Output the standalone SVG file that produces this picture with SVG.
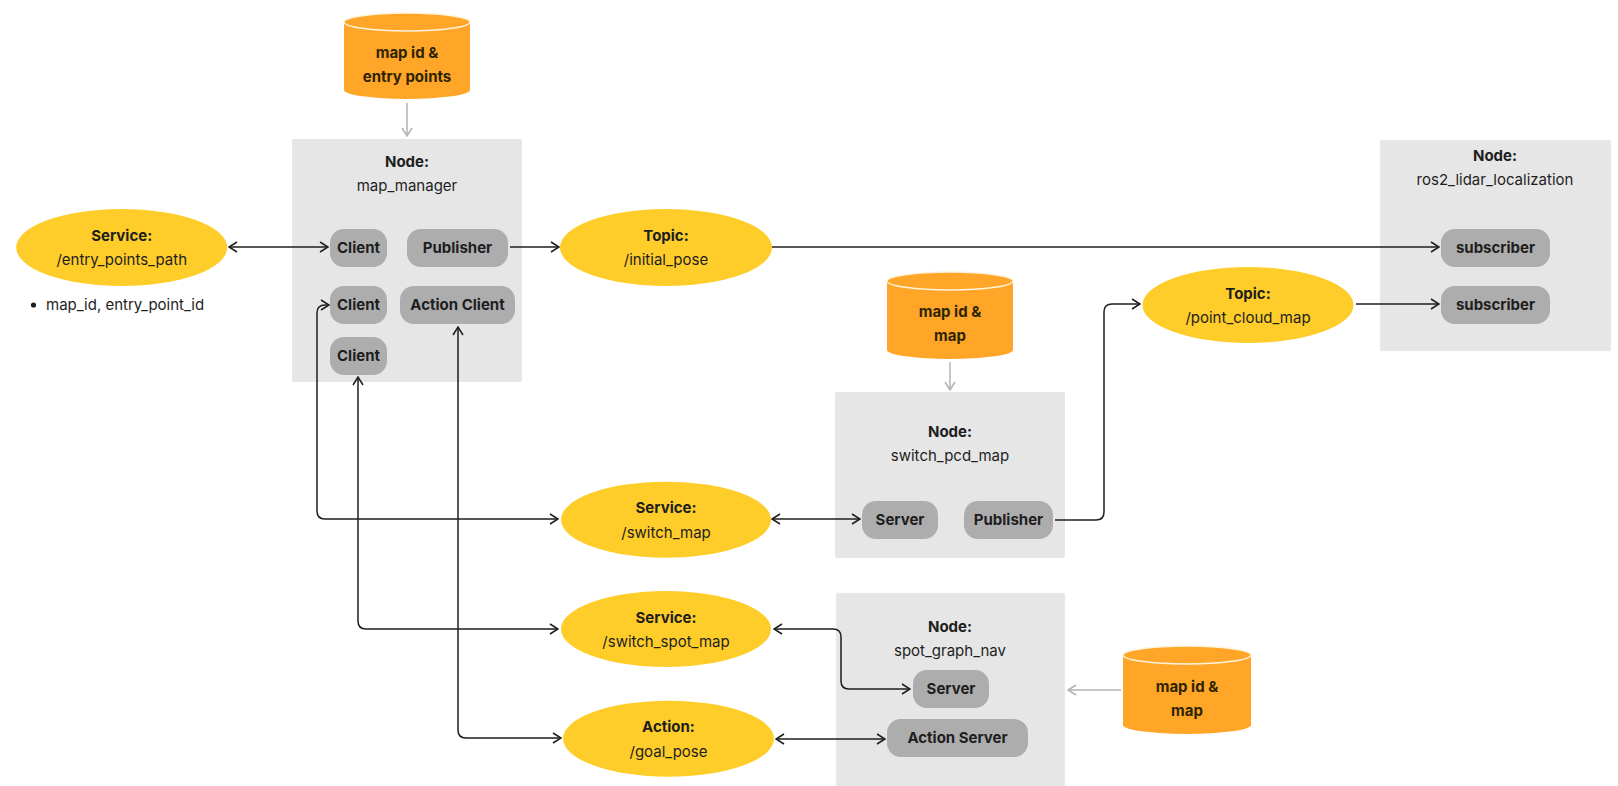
<svg xmlns="http://www.w3.org/2000/svg" width="1618" height="786" viewBox="0 0 1618 786">
<style>
  text { font-family: Inter, "Noto Sans", "Liberation Sans", sans-serif; font-size: 15px; fill: #1e1e1e; text-anchor: middle; }
  .b { font-weight: 700; }
  .box { fill: #e6e6e6; }
  .dbox { fill: #e6e6e6; stroke: #f2f2f2; stroke-width: 1; stroke-dasharray: 2 2; }
  .pill { fill: #adadad; }
  .ell { fill: #ffcd29; }
  .cyl { fill: #ffa629; }
  .cyltop { fill: #ffa629; stroke: #fff3dc; stroke-width: 1.5; }
  .ct { font-weight: 700; fill: #2e2400; }
  .con { fill: none; stroke: #1e1e1e; stroke-width: 1.5; }
  .gray { fill: none; stroke: #b3b3b3; stroke-width: 1.5; }
  .lt { text-anchor: start; }
</style>
<defs>
  <marker id="ah" viewBox="0 0 10 12" refX="9" refY="6" markerWidth="10" markerHeight="12" markerUnits="userSpaceOnUse" orient="auto-start-reverse">
    <path d="M1,1 L9,6 L1,11" fill="none" stroke="#1e1e1e" stroke-width="1.5"/>
  </marker>
  <marker id="ahg" viewBox="0 0 10 12" refX="9" refY="6" markerWidth="10" markerHeight="12" markerUnits="userSpaceOnUse" orient="auto-start-reverse">
    <path d="M1,1 L9,6 L1,11" fill="none" stroke="#b3b3b3" stroke-width="1.5"/>
  </marker>
</defs>

<g id="db-entry-points">
  <path class="cyl" d="M344,22 L344,90 A63,9 0 0 0 470,90 L470,22 Z"/>
  <ellipse class="cyltop" cx="407" cy="22" rx="63" ry="9"/>
  <text class="ct" x="407" y="58">map id &amp;</text>
  <text class="ct" x="407" y="82">entry points</text>
</g>

<g id="node-map-manager">
  <rect class="box" x="292" y="139" width="230" height="243" rx="2"/>
  <text class="b" x="407" y="167">Node:</text>
  <text x="407" y="191">map_manager</text>
  <rect class="pill" x="330" y="229" width="57" height="38" rx="14"/>
  <text class="b" x="358.5" y="253">Client</text>
  <rect class="pill" x="407" y="229" width="101" height="38" rx="14"/>
  <text class="b" x="457.5" y="253">Publisher</text>
  <rect class="pill" x="330" y="286" width="57" height="38" rx="14"/>
  <text class="b" x="358.5" y="310">Client</text>
  <rect class="pill" x="400" y="286" width="115" height="38" rx="14"/>
  <text class="b" x="457.5" y="310">Action Client</text>
  <rect class="pill" x="330" y="337" width="57" height="38" rx="14"/>
  <text class="b" x="358.5" y="361">Client</text>
</g>

<g id="service-entry-points-path">
  <ellipse class="ell" cx="121.7" cy="247.5" rx="105.5" ry="38.5"/>
  <text class="b" x="121.7" y="241">Service:</text>
  <text x="121.7" y="265">/entry_points_path</text>
  <circle cx="33.5" cy="305" r="2.6" fill="#1e1e1e"/>
  <text class="lt" x="46" y="310">map_id, entry_point_id</text>
</g>

<g id="topic-initial-pose">
  <ellipse class="ell" cx="666" cy="247.5" rx="106" ry="38.5"/>
  <text class="b" x="666" y="241">Topic:</text>
  <text x="666" y="265">/initial_pose</text>
</g>

<g id="db-map-pcd">
  <path class="cyl" d="M887,281 L887,350 A63,9 0 0 0 1013,350 L1013,281 Z"/>
  <ellipse class="cyltop" cx="950" cy="281" rx="63" ry="9"/>
  <text class="ct" x="950" y="317">map id &amp;</text>
  <text class="ct" x="950" y="341">map</text>
</g>

<g id="node-ros2-lidar-localization">
  <rect class="dbox" x="1380" y="140" width="231" height="211" rx="2"/>
  <text class="b" x="1495" y="161">Node:</text>
  <text x="1495" y="185">ros2_lidar_localization</text>
  <rect class="pill" x="1441" y="229" width="109" height="38" rx="14"/>
  <text class="b" x="1495.5" y="253">subscriber</text>
  <rect class="pill" x="1441" y="286" width="109" height="38" rx="14"/>
  <text class="b" x="1495.5" y="310">subscriber</text>
</g>

<g id="topic-point-cloud-map">
  <ellipse class="ell" cx="1248" cy="305" rx="105.5" ry="38"/>
  <text class="b" x="1248" y="299">Topic:</text>
  <text x="1248" y="323">/point_cloud_map</text>
</g>

<g id="node-switch-pcd-map">
  <rect class="box" x="835" y="392" width="230" height="166" rx="2"/>
  <text class="b" x="950" y="437">Node:</text>
  <text x="950" y="461">switch_pcd_map</text>
  <rect class="pill" x="862" y="501" width="76" height="38" rx="14"/>
  <text class="b" x="900" y="525">Server</text>
  <rect class="pill" x="964" y="501" width="89" height="38" rx="14"/>
  <text class="b" x="1008.5" y="525">Publisher</text>
</g>

<g id="service-switch-map">
  <ellipse class="ell" cx="666" cy="519.7" rx="105" ry="38"/>
  <text class="b" x="666" y="513">Service:</text>
  <text x="666" y="538">/switch_map</text>
</g>

<g id="service-switch-spot-map">
  <ellipse class="ell" cx="666" cy="629" rx="105" ry="38"/>
  <text class="b" x="666" y="623">Service:</text>
  <text x="666" y="647">/switch_spot_map</text>
</g>

<g id="action-goal-pose">
  <ellipse class="ell" cx="668.5" cy="738.7" rx="105.5" ry="38"/>
  <text class="b" x="668.5" y="732">Action:</text>
  <text x="668.5" y="757">/goal_pose</text>
</g>

<g id="node-spot-graph-nav">
  <rect class="dbox" x="836" y="593" width="229" height="200" rx="2"/>
  <text class="b" x="950" y="632">Node:</text>
  <text x="950" y="656">spot_graph_nav</text>
  <rect class="pill" x="913" y="670" width="76" height="38" rx="14"/>
  <text class="b" x="951" y="694">Server</text>
  <rect class="pill" x="887" y="719" width="141" height="38" rx="14"/>
  <text class="b" x="957.5" y="743">Action Server</text>
</g>

<g id="db-map-spot">
  <path class="cyl" d="M1123,655 L1123,725 A64,9 0 0 0 1251,725 L1251,655 Z"/>
  <ellipse class="cyltop" cx="1187" cy="655" rx="64" ry="9"/>
  <text class="ct" x="1187" y="692">map id &amp;</text>
  <text class="ct" x="1187" y="716">map</text>
</g>

<g id="connectors">
  <path class="gray" d="M407,103 L407,136" marker-end="url(#ahg)"/>
  <path class="gray" d="M950,362 L950,390" marker-end="url(#ahg)"/>
  <path class="gray" d="M1121,690 L1068,690" marker-end="url(#ahg)"/>
  <path class="con" d="M229,247 L328,247" marker-start="url(#ah)" marker-end="url(#ah)"/>
  <path class="con" d="M510,247 L559,247" marker-end="url(#ah)"/>
  <path class="con" d="M772,247 L1439,247" marker-end="url(#ah)"/>
  <path class="con" d="M1356,304 L1439,304" marker-end="url(#ah)"/>
  <path class="con" d="M1055,520 L1096,520 Q1104,520 1104,512 L1104,312 Q1104,304 1112,304 L1140,304" marker-end="url(#ah)"/>
  <path class="con" d="M329,305 L325,305 Q317,305 317,313 L317,511 Q317,519 325,519 L558,519" marker-start="url(#ah)" marker-end="url(#ah)"/>
  <path class="con" d="M358,377 L358,621 Q358,629 366,629 L558,629" marker-start="url(#ah)" marker-end="url(#ah)"/>
  <path class="con" d="M458,327 L458,730 Q458,738 466,738 L561,738" marker-start="url(#ah)" marker-end="url(#ah)"/>
  <path class="con" d="M772,519 L860,519" marker-start="url(#ah)" marker-end="url(#ah)"/>
  <path class="con" d="M774,629 L833,629 Q841,629 841,637 L841,681 Q841,689 849,689 L910,689" marker-start="url(#ah)" marker-end="url(#ah)"/>
  <path class="con" d="M776,739 L885,739" marker-start="url(#ah)" marker-end="url(#ah)"/>
</g>
</svg>
